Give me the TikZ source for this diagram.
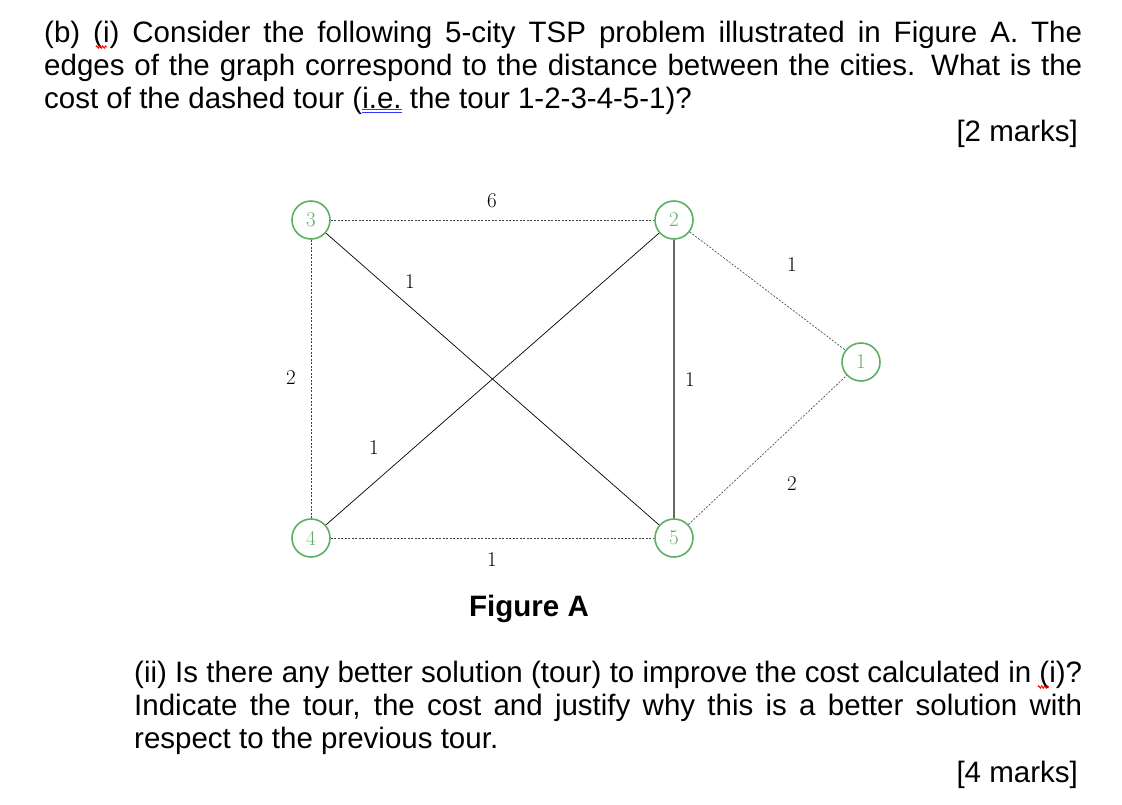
\documentclass[tikz,border=0pt]{standalone}
\usepackage{fontspec}
\setmainfont{Liberation Sans}
\newfontfamily\numfont{Latin Modern Roman}
\usetikzlibrary{decorations.pathmorphing}
\definecolor{cgreen}{RGB}{92,176,100}
\newcommand\dblul[1]{\leavevmode\vtop{\hbox{#1}\kern1.2pt{\color{blue!80}\hrule height0.7pt\kern1.6pt\hrule height0.7pt}}}
\begin{document}
\begin{tikzpicture}[x=1pt,y=1pt,
  city/.style={circle,draw=cgreen,line width=1.6pt,minimum size=38pt,inner sep=0pt,text=cgreen,font=\numfont\fontsize{21}{21}\selectfont},
  lab/.style={font=\numfont\fontsize{21}{21}\selectfont},
  txt/.style={anchor=base west,inner sep=0pt,font=\fontsize{29.5}{33}\selectfont},
  dsh/.style={draw=black!75,line width=0.6pt,dash pattern=on 2pt off 1.5pt}]
\useasboundingbox (0,0) rectangle (1122,-804);
\fill[white] (0,0) rectangle (1122,-804);
% text
\node[txt] (l1) at (44,-42) {\makebox[1038pt][s]{(b) (i) Consider the following 5-city TSP problem illustrated in Figure A. The}};
\node[txt] (l2) at (44,-75) {\makebox[1038pt][s]{edges of the graph correspond to the distance between the cities. What is the}};
\node[txt] (l3) at (44,-108) {cost of the dashed tour (\dblul{i.e.} the tour 1-2-3-4-5-1)?};
\node[txt,anchor=base east] (m1) at (1078,-141) {[2 marks]};
\draw[red,line width=0.9pt,decorate,decoration={zigzag,amplitude=1.2pt,segment length=3pt}] (96,-47) -- (107,-47);
% graph
\node[city] (c3) at (311,-220) {3};
\node[city] (c2) at (674,-220) {2};
\node[city] (c1) at (861,-362) {1};
\node[city] (c4) at (311,-538) {4};
\node[city] (c5) at (674,-538) {5};
\draw[dsh] (c3) -- (c2);
\draw[dsh] (c3) -- (c4);
\draw[dsh] (c4) -- (c5);
\draw[dsh] (c2) -- (c1);
\draw[dsh] (c5) -- (c1);
\draw[line width=0.7pt] (c3) -- (c5);
\draw[line width=0.7pt] (c4) -- (c2);
\draw[black!60,line width=1.3pt] (c2) -- (c5);
\node[lab] (e32) at (492,-201) {6};
\node[lab] (e35) at (410,-282) {1};
\node[lab] (e21) at (792,-265) {1};
\node[lab] (e34) at (291,-378) {2};
\node[lab] (e25) at (690,-380) {1};
\node[lab] (e42) at (374,-448) {1};
\node[lab] (e51) at (792,-484) {2};
\node[lab] (e45) at (492,-560) {1};
\node[txt,anchor=base,font=\bfseries\fontsize{29.5}{33}\selectfont] (fig) at (529,-616) {Figure A};
\node[txt] (p1) at (134,-682) {\makebox[948pt][s]{(ii) Is there any better solution (tour) to improve the cost calculated in (i)?}};
\node[txt] (p2) at (134,-715) {\makebox[948pt][s]{Indicate the tour, the cost and justify why this is a better solution with}};
\node[txt] (p3) at (134,-748) {respect to the previous tour.};
\node[txt,anchor=base east] (m2) at (1078,-782) {[4 marks]};
\draw[red,line width=0.9pt,decorate,decoration={zigzag,amplitude=1.2pt,segment length=3pt}] (1038,-687) -- (1049,-687);
\end{tikzpicture}
\end{document}
